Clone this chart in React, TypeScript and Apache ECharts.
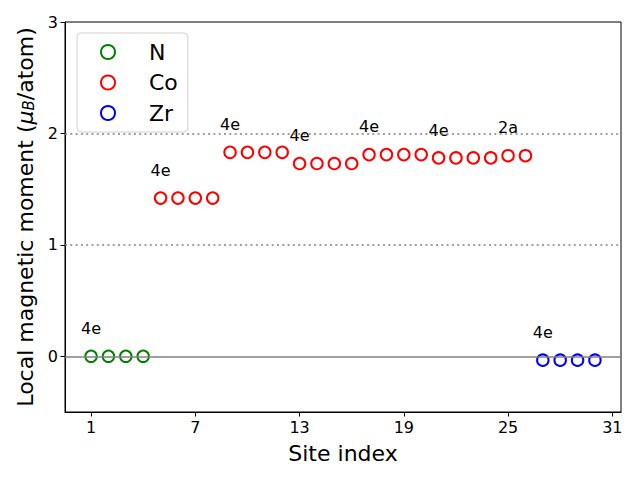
import React, { useEffect, useRef } from "react";
import * as echarts from "echarts";

const nSites = [1, 2, 3, 4];
const nValues = [0.0, 0.0, 0.0, 0.0];
const coSites = [5, 6, 7, 8, 9, 10, 11, 12, 13, 14, 15, 16, 17, 18, 19, 20, 21, 22, 23, 24, 25, 26];
const coValues = [1.42, 1.42, 1.42, 1.42, 1.83, 1.83, 1.83, 1.83, 1.73, 1.73, 1.73, 1.73, 1.81, 1.81, 1.81, 1.81, 1.78, 1.78, 1.78, 1.78, 1.8, 1.8];
const zrSites = [27, 28, 29, 30];
const zrValues = [-0.035, -0.035, -0.035, -0.035];
const labelSites = [1, 5, 9, 13, 17, 21, 25, 27];
const labelTexts = ["4e", "4e", "4e", "4e", "4e", "4e", "2a", "4e"];
const labelValues = [0.0, 1.42, 1.83, 1.73, 1.81, 1.78, 1.8, -0.035];
const labelOffset = 0.25;
const xTicks = [1, 7, 13, 19, 25, 31];
const yTicks = [0, 1, 2, 3];

const FONT = "DejaVu Sans";

export default function App() {
  const ref = useRef<HTMLDivElement>(null);
  useEffect(() => {
    if (!ref.current) return;
    const chart = echarts.init(ref.current, null, { renderer: "svg" });
    const mk = (name: string, xs: number[], ys: number[], color: string, z: number) => ({
      name,
      type: "scatter",
      symbol: "emptyCircle",
      symbolSize: 11.5,
      z,
      itemStyle: { color, borderColor: color, borderWidth: 1.1, opacity: 1 },
      data: xs.map((x, i) => [x, ys[i]]),
    });
    chart.setOption({
      animation: false,
      textStyle: { fontFamily: FONT },
      grid: {
        left: 65,
        right: 19,
        top: 22,
        bottom: 68,
        show: true,
        borderColor: "#000",
        borderWidth: 1,
      },
      legend: {
        data: ["N", "Co", "Zr"],
        orient: "vertical",
        left: 77,
        top: 33,
        itemWidth: 14,
        itemHeight: 14,
        itemGap: 8.5,
        padding: [8, 10, 8, 23],
        borderColor: "#d0d0d0",
        borderWidth: 1,
        borderRadius: 4,
        backgroundColor: "rgba(255,255,255,0.85)",
        textStyle: { fontSize: 22, lineHeight: 22, fontFamily: FONT, color: "#000", padding: [0, 0, 0, 29] },
      },
      xAxis: {
        type: "value",
        min: -0.5,
        max: 31.5,
        name: "Site index",
        nameLocation: "middle",
        nameGap: 30,
        nameTextStyle: { fontSize: 22, color: "#000", fontFamily: FONT },
        axisLine: { show: true, onZero: false, lineStyle: { color: "#000" } },
        axisTick: { show: true, customValues: xTicks, length: 4.5, lineStyle: { color: "#000" } },
        axisLabel: { customValues: xTicks, fontSize: 16, color: "#000", margin: 7, fontFamily: FONT },
        splitLine: { show: false },
      },
      yAxis: {
        type: "value",
        min: -0.5,
        max: 3,
        name: "Local magnetic moment ({i|μ}{sub|B}/atom)",
        nameLocation: "middle",
        nameRotate: 90,
        nameGap: 27,
        nameTextStyle: {
          fontSize: 22,
          color: "#000",
          fontFamily: FONT,
          rich: {
            i: { fontSize: 22, fontStyle: "italic", fontFamily: FONT, color: "#000" },
            sub: { fontSize: 15, fontStyle: "italic", fontFamily: FONT, color: "#000", verticalAlign: "bottom", padding: [8, 0, 0, 0] },
          },
        },
        axisLine: { show: true, onZero: false, lineStyle: { color: "#000" } },
        axisTick: { show: true, customValues: yTicks, length: 4.5, lineStyle: { color: "#000" } },
        axisLabel: { customValues: yTicks, fontSize: 16, color: "#000", margin: 7, fontFamily: FONT },
        splitLine: { show: false },
      },
      series: [
        {
          name: "lines",
          type: "line",
          data: [],
          z: 1,
          markLine: {
            silent: true,
            symbol: "none",
            label: { show: false },
            data: [
              { yAxis: 0, lineStyle: { color: "#808080", type: "solid", width: 1.5 } },
              { yAxis: 1, lineStyle: { color: "#808080", type: [2, 3.3], width: 1.5 } },
              { yAxis: 2, lineStyle: { color: "#808080", type: [2, 3.3], width: 1.5 } },
            ],
          },
        },
        mk("N", nSites, nValues, "#008000", 3),
        mk("Co", coSites, coValues, "#ff0000", 3),
        mk("Zr", zrSites, zrValues, "#0000ff", 3),
        {
          name: "labels",
          type: "scatter",
          symbolSize: 0,
          z: 4,
          itemStyle: { opacity: 1 },
          data: labelSites.map((x, i) => ({ value: [x, labelValues[i] + labelOffset], name: labelTexts[i] })),
          label: {
            show: true,
            position: "inside",
            formatter: (p: any) => p.name,
            fontSize: 16,
            color: "#000",
            fontFamily: FONT,
          },
        },
      ],
    });
    return () => chart.dispose();
  }, []);
  return <div ref={ref} style={{ width: 640, height: 480, margin: -8 }} />;
}
